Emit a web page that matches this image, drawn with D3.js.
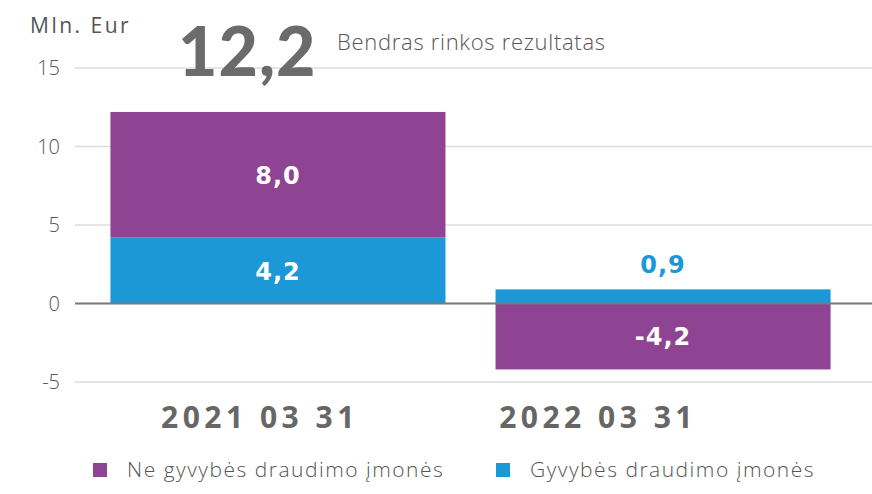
<!DOCTYPE html>
<html><head><meta charset="utf-8">
<script src="https://cdn.jsdelivr.net/npm/d3@7"></script>
<style>
body{margin:0;background:#fff;}
svg{display:block;}
</style></head>
<body><svg id="c" width="872" height="494"></svg>
<script>
const categories = ["2021 03 31", "2022 03 31"];
const seriesNames = ["Gyvybės draudimo įmonės", "Ne gyvybės draudimo įmonės"];
const gyvybes = [4.2, 0.9];
const neGyvybes = [8.0, -4.2];
const yTicks = [-5, 0, 5, 10, 15];
const totalLabel = "12,2";
const totalCaption = "Bendras rinkos rezultatas";
const unitLabel = "Mln. Eur";

const colors = {"Gyvybės draudimo įmonės": "#1b98d5", "Ne gyvybės draudimo įmonės": "#8e4393"};
const svg = d3.select("#c");
const y = d3.scaleLinear().domain([-5, 15]).range([382, 68]);
const x = d3.scaleBand().domain(categories).range([75, 866]).paddingInner(0.13).paddingOuter(0.092);
const fmt = v => d3.format(".1f")(v).replace(".", ",").replace("−", "-");

// gridlines
svg.append("g").selectAll("line").data(yTicks).join("line")
  .attr("x1", 75).attr("x2", 872)
  .attr("y1", d => y(d)).attr("y2", d => y(d))
  .attr("stroke", "#dcdcdc").attr("stroke-width", 1.5);

// y tick labels
svg.append("g").selectAll("text").data(yTicks).join("text")
  .attr("x", 60).attr("y", d => y(d) + 7).attr("text-anchor", "end")
  .attr("font-family", "Open Sans").attr("font-weight", 300).attr("font-size", 20).attr("fill", "#555")
  .text(d => d);

// stacked data
const rows = categories.map((c, i) => ({cat: c, g: gyvybes[i], n: neGyvybes[i]}));
const segs = [];
rows.forEach(r => {
  let pos = 0, neg = 0;
  [["Gyvybės draudimo įmonės", r.g], ["Ne gyvybės draudimo įmonės", r.n]].forEach(([s, v]) => {
    let y0, y1;
    if (v >= 0) { y0 = pos; y1 = pos + v; pos = y1; } else { y0 = neg; y1 = neg + v; neg = y1; }
    segs.push({cat: r.cat, s, v, y0, y1});
  });
});

svg.append("g").selectAll("rect").data(segs).join("rect")
  .attr("x", d => x(d.cat)).attr("width", x.bandwidth())
  .attr("y", d => y(Math.max(d.y0, d.y1)))
  .attr("height", d => Math.abs(y(d.y0) - y(d.y1)))
  .attr("fill", d => colors[d.s]);

// zero line
svg.append("line").attr("x1", 75).attr("x2", 872).attr("y1", y(0)).attr("y2", y(0))
  .attr("stroke", "#7a7a7a").attr("stroke-width", 2);

// value labels
svg.append("g").selectAll("text").data(segs).join("text")
  .attr("x", d => x(d.cat) + x.bandwidth() / 2)
  .attr("y", d => {
    const h = Math.abs(y(d.y0) - y(d.y1));
    if (h < 30) return y(Math.max(d.y0, d.y1)) - 16;
    return (y(d.y0) + y(d.y1)) / 2 + 9;
  })
  .attr("text-anchor", "middle")
  .attr("font-family", "DejaVu Sans").attr("font-weight", "bold").attr("font-size", 24)
  .attr("letter-spacing", 1)
  .attr("fill", d => Math.abs(y(d.y0) - y(d.y1)) < 30 ? colors[d.s] : "#fff")
  .text(d => fmt(d.v));

// category labels
const catShift = [-18, -65];
svg.append("g").selectAll("text").data(categories).join("text")
  .attr("x", (d, i) => x(d) + x.bandwidth() / 2 + catShift[i])
  .attr("y", 428).attr("text-anchor", "middle")
  .attr("font-family", "Open Sans").attr("font-weight", 700).attr("font-size", 30)
  .attr("letter-spacing", 4.5).attr("fill", "#666")
  .text(d => d);

// unit label
svg.append("text").attr("x", 30).attr("y", 33)
  .attr("font-family", "Open Sans").attr("font-size", 21).attr("letter-spacing", 2.5).attr("fill", "#555")
  .text(unitLabel);

// total
svg.append("text").attr("x", 178).attr("y", 76)
  .attr("font-family", "Lato").attr("font-weight", 900).attr("font-size", 68)
  .attr("letter-spacing", 1).attr("fill", "#6b6b6b")
  .text(totalLabel);
svg.append("text").attr("x", 337).attr("y", 50)
  .attr("font-family", "Open Sans").attr("font-weight", 300).attr("font-size", 22)
  .attr("letter-spacing", 0.7).attr("fill", "#555")
  .text(totalCaption);

// legend
const legendItems = [seriesNames[1], seriesNames[0]];
const lx = [93, 496];
const lg = svg.append("g").selectAll("g").data(legendItems).join("g")
  .attr("transform", (d, i) => `translate(${lx[i]},463)`);
lg.append("rect").attr("width", 14).attr("height", 14).attr("fill", d => colors[d]);
lg.append("text").attr("x", 34).attr("y", 14)
  .attr("font-family", "Open Sans").attr("font-weight", 300).attr("font-size", 21)
  .attr("letter-spacing", 1.5).attr("fill", "#555")
  .text(d => d);
</script></body></html>
